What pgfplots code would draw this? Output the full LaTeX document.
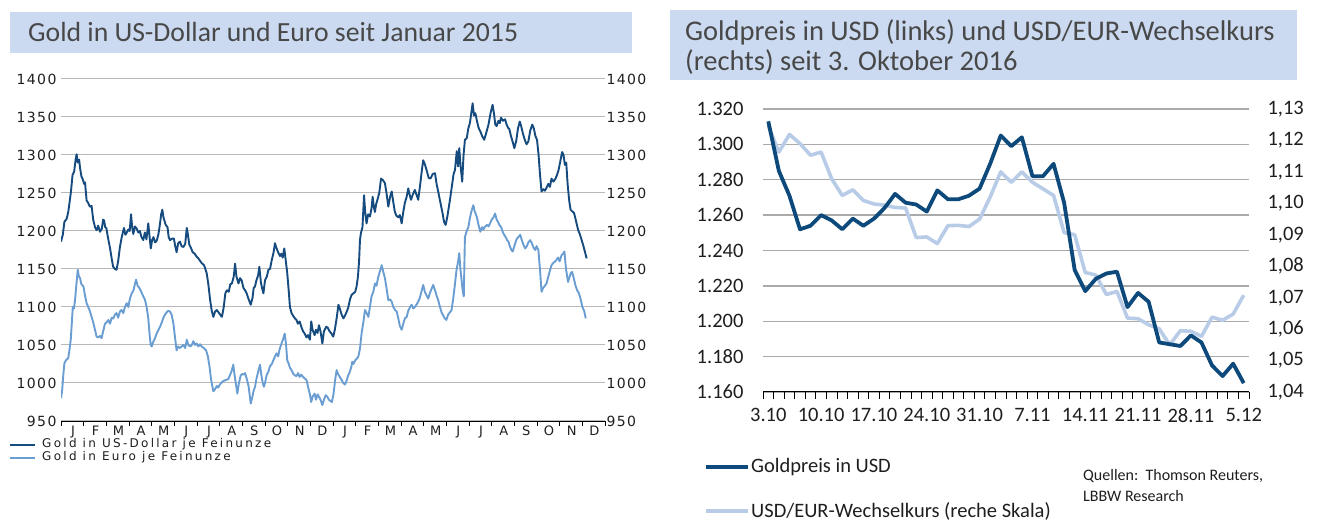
\documentclass[border=0pt]{standalone}
\usepackage{pgfplots}
\pgfplotsset{compat=1.18}
\usepackage{fontspec}
\setmainfont{Carlito}
\newfontfamily\vfont[LetterSpace=10]{DejaVu Sans}
\newfontfamily\lfont[LetterSpace=19]{DejaVu Sans}
\definecolor{titlebg}{RGB}{203,218,240}
\definecolor{titletext}{RGB}{72,72,72}
\definecolor{gridL}{RGB}{185,185,185}
\definecolor{gridR}{RGB}{170,170,170}
\definecolor{darkL}{RGB}{21,75,126}
\definecolor{lightL}{RGB}{106,158,210}
\definecolor{darkR}{RGB}{13,74,123}
\definecolor{lightR}{RGB}{184,204,232}
\definecolor{tickcol}{RGB}{30,30,30}
\begin{document}
\begin{tikzpicture}[x=1pt,y=1pt]
\path[use as bounding box] (0,0) rectangle (1322,521);
% ---------- titles ----------
\fill[titlebg] (10,468) rectangle (632,509);
\node[anchor=base west, inner sep=0pt, text=titletext, font=\fontsize{27.7}{30}\selectfont] at (28,479) {Gold in US-Dollar und Euro seit Januar 2015};
\fill[titlebg] (670,441) rectangle (1297,511);
\node[anchor=base west, inner sep=0pt, text=titletext, font=\fontsize{28.5}{30}\selectfont] at (685,480) {Goldpreis in USD (links) und USD/EUR-Wechselkurs};
\node[anchor=base west, inner sep=0pt, text=titletext, font=\fontsize{28.5}{30}\selectfont] at (685,450) {(rechts) seit 3. Oktober 2016};
% ---------- left chart ----------
\begin{axis}[
  at={(61pt,100pt)}, anchor=south west, scale only axis,
  width=544pt, height=342pt,
  xmin=0, xmax=24, ymin=950, ymax=1400,
  axis x line*=bottom, axis y line*=left,
  y axis line style={draw=none},
  x axis line style={black, line width=0.9pt},
  tick align=outside,
  major tick length=0pt, minor tick length=5pt,
  minor x tick style={black, line width=0.8pt},
  ytick={950,1000,...,1400},
  ymajorgrids, grid style={gridL, line width=1pt},
  xtick={0.5,1.5,...,23.5},
  xticklabels={J,F,M,A,M,J,J,A,S,O,N,D,J,F,M,A,M,J,J,A,S,O,N,D},
  minor xtick={0,1,...,24},
  /pgf/number format/assume math mode=true,
  /pgf/number format/set thousands separator={},
  yticklabel style={font=\vfont\fontsize{14}{14}\selectfont, text=tickcol, xshift=-1pt},
  xticklabel style={font=\vfont\fontsize{13}{13}\selectfont, text=tickcol, yshift=-3pt, xshift=0.7pt, inner ysep=2pt},
  line join=round,
]
\addplot[lightL, line width=1.9pt, no marks] table[row sep=\\] {x y\\
0.00 980\\ 0.05 990\\ 0.10 1010\\ 0.15 1026\\ 0.22 1030\\ 0.32 1033\\ 0.38 1045\\ 0.43 1057\\ 0.48 1080\\ 0.52 1100\\
0.57 1098\\ 0.62 1109\\ 0.68 1130\\ 0.74 1149\\ 0.79 1140\\ 0.84 1138\\ 0.90 1130\\ 0.99 1127\\ 1.06 1115\\ 1.13 1105\\
1.20 1100\\ 1.27 1095\\ 1.35 1087\\ 1.42 1080\\ 1.50 1070\\ 1.57 1061\\ 1.65 1060\\ 1.72 1062\\ 1.79 1059\\ 1.86 1068\\
1.94 1078\\ 2.02 1080\\ 2.09 1083\\ 2.16 1078\\ 2.24 1086\\ 2.31 1085\\ 2.38 1090\\ 2.45 1092\\ 2.52 1086\\ 2.60 1094\\
2.67 1096\\ 2.75 1092\\ 2.82 1100\\ 2.90 1105\\ 2.97 1100\\ 3.05 1112\\ 3.12 1118\\ 3.20 1122\\ 3.26 1130\\ 3.31 1136\\
3.38 1128\\ 3.46 1125\\ 3.54 1120\\ 3.63 1114\\ 3.70 1110\\ 3.78 1100\\ 3.85 1085\\ 3.92 1060\\ 3.96 1050\\ 4.00 1048\\
4.08 1055\\ 4.15 1059\\ 4.22 1065\\ 4.30 1070\\ 4.37 1074\\ 4.45 1080\\ 4.52 1086\\ 4.59 1090\\ 4.66 1093\\ 4.73 1095\\
4.81 1094\\ 4.88 1090\\ 4.96 1078\\ 5.03 1060\\ 5.10 1043\\ 5.17 1048\\ 5.25 1046\\ 5.32 1048\\ 5.40 1050\\ 5.48 1046\\
5.55 1057\\ 5.62 1050\\ 5.70 1048\\ 5.77 1050\\ 5.84 1055\\ 5.92 1050\\ 5.99 1052\\ 6.06 1048\\ 6.13 1051\\ 6.21 1048\\
6.30 1046\\ 6.40 1043\\ 6.48 1035\\ 6.55 1022\\ 6.62 1005\\ 6.68 995\\ 6.72 989\\ 6.80 992\\ 6.87 996\\ 6.94 994\\
7.01 998\\ 7.07 1000\\ 7.13 1002\\ 7.20 1003\\ 7.28 1004\\ 7.38 1005\\ 7.45 1010\\ 7.52 1015\\ 7.60 1024\\ 7.66 1010\\
7.72 998\\ 7.78 986\\ 7.85 1000\\ 7.93 1010\\ 8.00 1012\\ 8.06 1011\\ 8.12 1013\\ 8.20 1005\\ 8.28 995\\ 8.37 973\\
8.43 980\\ 8.50 990\\ 8.56 995\\ 8.62 1005\\ 8.70 1015\\ 8.78 1024\\ 8.84 1010\\ 8.90 1000\\ 8.95 995\\ 9.00 1000\\
9.07 1010\\ 9.15 1015\\ 9.22 1022\\ 9.30 1025\\ 9.37 1030\\ 9.44 1035\\ 9.51 1039\\ 9.58 1035\\ 9.65 1045\\ 9.73 1052\\
9.80 1058\\ 9.87 1065\\ 9.93 1050\\ 9.98 1030\\ 10.05 1025\\ 10.10 1020\\ 10.17 1017\\ 10.25 1012\\ 10.32 1010\\ 10.39 1009\\
10.46 1013\\ 10.53 1008\\ 10.60 1011\\ 10.68 1008\\ 10.75 1006\\ 10.83 1004\\ 10.90 995\\ 10.98 985\\ 11.04 975\\ 11.10 982\\
11.19 986\\ 11.25 978\\ 11.32 985\\ 11.38 982\\ 11.45 978\\ 11.53 971\\ 11.60 978\\ 11.68 984\\ 11.75 982\\ 11.82 978\\
11.90 976\\ 11.95 975\\ 12.02 985\\ 12.10 1005\\ 12.16 1017\\ 12.22 1012\\ 12.30 1008\\ 12.38 1004\\ 12.45 1000\\ 12.53 998\\
12.60 1003\\ 12.67 1010\\ 12.72 1013\\ 12.80 1020\\ 12.85 1028\\ 12.90 1025\\ 12.98 1030\\ 13.05 1032\\ 13.12 1035\\ 13.19 1045\\
13.26 1065\\ 13.34 1080\\ 13.41 1096\\ 13.48 1092\\ 13.56 1087\\ 13.63 1100\\ 13.70 1114\\ 13.78 1120\\ 13.85 1131\\ 13.92 1128\\
14.00 1140\\ 14.08 1148\\ 14.15 1155\\ 14.22 1146\\ 14.29 1138\\ 14.36 1125\\ 14.44 1109\\ 14.52 1110\\ 14.59 1107\\ 14.66 1100\\
14.74 1096\\ 14.81 1094\\ 14.88 1085\\ 14.95 1075\\ 15.03 1070\\ 15.10 1078\\ 15.17 1085\\ 15.25 1087\\ 15.32 1095\\ 15.40 1100\\
15.47 1103\\ 15.54 1098\\ 15.61 1100\\ 15.68 1103\\ 15.76 1107\\ 15.83 1112\\ 15.90 1120\\ 15.98 1129\\ 16.05 1120\\ 16.13 1115\\
16.20 1111\\ 16.27 1118\\ 16.35 1124\\ 16.42 1129\\ 16.50 1122\\ 16.57 1115\\ 16.64 1109\\ 16.72 1100\\ 16.80 1092\\ 16.86 1089\\
16.93 1085\\ 17.00 1083\\ 17.08 1090\\ 17.16 1093\\ 17.23 1096\\ 17.30 1110\\ 17.38 1130\\ 17.45 1149\\ 17.52 1160\\ 17.57 1171\\
17.62 1150\\ 17.67 1136\\ 17.72 1122\\ 17.77 1114\\ 17.82 1192\\ 17.90 1200\\ 17.97 1205\\ 18.04 1217\\ 18.10 1225\\ 18.19 1234\\
18.25 1226\\ 18.34 1219\\ 18.42 1208\\ 18.50 1199\\ 18.58 1205\\ 18.64 1202\\ 18.71 1206\\ 18.80 1208\\ 18.86 1206\\ 18.93 1210\\
19.00 1215\\ 19.08 1218\\ 19.15 1223\\ 19.22 1215\\ 19.28 1212\\ 19.34 1208\\ 19.42 1205\\ 19.50 1198\\ 19.55 1195\\ 19.62 1192\\
19.68 1188\\ 19.74 1186\\ 19.80 1180\\ 19.87 1175\\ 19.93 1173\\ 20.00 1180\\ 20.06 1186\\ 20.11 1190\\ 20.18 1192\\ 20.26 1195\\
20.33 1188\\ 20.40 1182\\ 20.48 1177\\ 20.55 1180\\ 20.62 1185\\ 20.70 1188\\ 20.77 1184\\ 20.85 1178\\ 20.92 1175\\ 20.98 1180\\
21.06 1175\\ 21.13 1150\\ 21.20 1120\\ 21.27 1125\\ 21.35 1128\\ 21.42 1131\\ 21.50 1140\\ 21.57 1148\\ 21.64 1155\\ 21.72 1158\\
21.80 1160\\ 21.86 1162\\ 21.93 1165\\ 22.00 1160\\ 22.08 1168\\ 22.15 1170\\ 22.21 1173\\ 22.28 1150\\ 22.37 1133\\ 22.44 1140\\
22.50 1145\\ 22.55 1146\\ 22.62 1138\\ 22.70 1128\\ 22.77 1122\\ 22.85 1118\\ 22.92 1111\\ 23.00 1100\\ 23.08 1095\\ 23.15 1085\\
};
\addplot[darkL, line width=1.9pt, no marks] table[row sep=\\] {x y\\
0.00 1186\\ 0.08 1195\\ 0.15 1212\\ 0.25 1216\\ 0.32 1225\\ 0.38 1238\\ 0.44 1252\\ 0.51 1274\\ 0.58 1278\\ 0.65 1295\\
0.69 1301\\ 0.74 1290\\ 0.80 1294\\ 0.84 1283\\ 0.90 1272\\ 0.96 1268\\ 1.02 1262\\ 1.06 1264\\ 1.13 1240\\ 1.20 1237\\
1.27 1232\\ 1.35 1233\\ 1.42 1215\\ 1.50 1205\\ 1.57 1201\\ 1.64 1207\\ 1.72 1199\\ 1.80 1203\\ 1.86 1215\\ 1.90 1214\\
1.95 1205\\ 2.00 1204\\ 2.08 1190\\ 2.16 1178\\ 2.24 1163\\ 2.30 1153\\ 2.38 1150\\ 2.45 1149\\ 2.52 1160\\ 2.60 1179\\
2.68 1192\\ 2.78 1204\\ 2.84 1195\\ 2.90 1198\\ 2.97 1202\\ 3.03 1200\\ 3.09 1222\\ 3.14 1205\\ 3.19 1196\\ 3.26 1206\\
3.34 1203\\ 3.41 1198\\ 3.48 1200\\ 3.55 1192\\ 3.63 1188\\ 3.70 1198\\ 3.77 1189\\ 3.85 1210\\ 3.90 1195\\ 3.96 1177\\
4.02 1188\\ 4.08 1192\\ 4.15 1185\\ 4.22 1187\\ 4.30 1196\\ 4.37 1210\\ 4.42 1222\\ 4.47 1228\\ 4.52 1218\\ 4.58 1212\\
4.62 1208\\ 4.70 1205\\ 4.75 1192\\ 4.81 1188\\ 4.90 1190\\ 4.98 1190\\ 5.04 1180\\ 5.10 1172\\ 5.17 1184\\ 5.25 1186\\
5.32 1180\\ 5.40 1179\\ 5.48 1183\\ 5.55 1204\\ 5.60 1195\\ 5.66 1182\\ 5.73 1178\\ 5.81 1172\\ 5.90 1170\\ 5.99 1166\\
6.06 1164\\ 6.13 1161\\ 6.20 1158\\ 6.31 1155\\ 6.37 1150\\ 6.43 1144\\ 6.50 1130\\ 6.58 1109\\ 6.65 1095\\ 6.72 1087\\
6.80 1094\\ 6.87 1096\\ 6.95 1093\\ 7.02 1090\\ 7.10 1087\\ 7.18 1100\\ 7.25 1118\\ 7.32 1122\\ 7.40 1120\\ 7.47 1130\\
7.54 1131\\ 7.62 1140\\ 7.68 1157\\ 7.74 1140\\ 7.83 1131\\ 7.90 1138\\ 7.97 1135\\ 8.05 1125\\ 8.12 1122\\ 8.19 1118\\
8.28 1110\\ 8.37 1103\\ 8.45 1112\\ 8.50 1125\\ 8.56 1127\\ 8.62 1135\\ 8.70 1142\\ 8.75 1153\\ 8.82 1132\\ 8.87 1125\\
8.93 1118\\ 9.00 1135\\ 9.08 1140\\ 9.15 1149\\ 9.22 1150\\ 9.30 1162\\ 9.38 1172\\ 9.44 1184\\ 9.50 1178\\ 9.58 1172\\
9.66 1167\\ 9.72 1170\\ 9.78 1165\\ 9.85 1177\\ 9.92 1160\\ 9.98 1145\\ 10.05 1120\\ 10.10 1100\\ 10.17 1092\\ 10.25 1088\\
10.32 1085\\ 10.39 1083\\ 10.45 1078\\ 10.53 1081\\ 10.60 1074\\ 10.68 1068\\ 10.75 1065\\ 10.83 1060\\ 10.90 1063\\ 10.98 1057\\
11.04 1081\\ 11.10 1070\\ 11.19 1063\\ 11.25 1070\\ 11.32 1066\\ 11.38 1076\\ 11.45 1068\\ 11.53 1052\\ 11.60 1068\\ 11.70 1074\\
11.76 1073\\ 11.85 1068\\ 11.93 1065\\ 12.01 1061\\ 12.08 1070\\ 12.16 1085\\ 12.24 1103\\ 12.30 1098\\ 12.38 1090\\ 12.46 1085\\
12.55 1090\\ 12.62 1095\\ 12.67 1099\\ 12.75 1110\\ 12.82 1116\\ 12.90 1118\\ 12.98 1120\\ 13.04 1127\\ 13.10 1140\\ 13.15 1160\\
13.19 1188\\ 13.23 1197\\ 13.30 1205\\ 13.37 1247\\ 13.42 1225\\ 13.48 1210\\ 13.55 1222\\ 13.63 1219\\ 13.70 1230\\ 13.75 1245\\
13.80 1232\\ 13.85 1225\\ 13.90 1235\\ 13.96 1241\\ 14.04 1250\\ 14.12 1269\\ 14.20 1267\\ 14.29 1263\\ 14.36 1250\\ 14.44 1232\\
14.52 1245\\ 14.59 1252\\ 14.66 1238\\ 14.73 1225\\ 14.80 1220\\ 14.88 1218\\ 14.95 1221\\ 15.03 1210\\ 15.10 1225\\ 15.17 1237\\
15.25 1245\\ 15.32 1256\\ 15.38 1248\\ 15.44 1241\\ 15.52 1248\\ 15.61 1254\\ 15.68 1248\\ 15.76 1241\\ 15.85 1262\\ 15.92 1280\\
15.98 1293\\ 16.05 1288\\ 16.13 1280\\ 16.22 1270\\ 16.30 1269\\ 16.40 1275\\ 16.50 1276\\ 16.57 1262\\ 16.64 1252\\ 16.72 1240\\
16.83 1224\\ 16.90 1212\\ 16.97 1208\\ 17.05 1220\\ 17.16 1241\\ 17.25 1260\\ 17.32 1275\\ 17.38 1280\\ 17.46 1305\\ 17.52 1285\\
17.57 1309\\ 17.63 1285\\ 17.70 1265\\ 17.76 1300\\ 17.82 1320\\ 17.90 1322\\ 17.97 1335\\ 18.04 1342\\ 18.10 1355\\ 18.16 1368\\
18.22 1352\\ 18.28 1355\\ 18.35 1345\\ 18.42 1336\\ 18.50 1331\\ 18.58 1325\\ 18.67 1320\\ 18.75 1328\\ 18.86 1340\\ 18.95 1355\\
19.04 1366\\ 19.10 1355\\ 19.16 1340\\ 19.22 1338\\ 19.30 1345\\ 19.36 1342\\ 19.41 1349\\ 19.50 1345\\ 19.59 1347\\ 19.66 1340\\
19.72 1336\\ 19.78 1334\\ 19.85 1325\\ 19.92 1318\\ 20.00 1309\\ 20.08 1318\\ 20.16 1335\\ 20.24 1344\\ 20.30 1338\\ 20.39 1327\\
20.46 1320\\ 20.54 1314\\ 20.62 1318\\ 20.70 1332\\ 20.79 1340\\ 20.86 1335\\ 20.93 1325\\ 21.00 1320\\ 21.07 1300\\ 21.13 1275\\
21.20 1252\\ 21.28 1255\\ 21.35 1253\\ 21.42 1257\\ 21.50 1262\\ 21.57 1258\\ 21.64 1269\\ 21.72 1265\\ 21.80 1268\\ 21.86 1272\\
21.95 1280\\ 22.03 1292\\ 22.11 1304\\ 22.17 1300\\ 22.23 1287\\ 22.29 1290\\ 22.35 1262\\ 22.42 1240\\ 22.48 1228\\ 22.55 1226\\
22.63 1224\\ 22.70 1216\\ 22.76 1208\\ 22.82 1201\\ 22.90 1195\\ 22.97 1188\\ 23.05 1180\\ 23.12 1172\\ 23.19 1164\\
};
\end{axis}
\begin{axis}[
  at={(61pt,100pt)}, anchor=south west, scale only axis,
  width=544pt, height=342pt,
  xmin=0, xmax=24, ymin=950, ymax=1400,
  hide x axis, axis y line*=right,
  y axis line style={draw=none},
  major tick length=0pt,
  ytick={950,1000,...,1400},
  /pgf/number format/assume math mode=true,
  /pgf/number format/set thousands separator={},
  yticklabel style={font=\vfont\fontsize{14}{14}\selectfont, text=tickcol, xshift=-2pt},
]
\end{axis}
% left legend
\draw[darkL, line width=2.6pt] (10,76) -- (35,76);
\draw[lightL, line width=2.6pt] (10,63) -- (35,63);
\node[anchor=west, inner sep=0pt, text=tickcol, font=\lfont\fontsize{12}{12}\selectfont] at (42,76.5) {Gold in US-Dollar je Feinunze};
\node[anchor=west, inner sep=0pt, text=tickcol, font=\lfont\fontsize{12}{12}\selectfont] at (42,63.5) {Gold in Euro je Feinunze};
% ---------- right chart ----------
\begin{axis}[
  at={(763pt,129pt)}, anchor=south west, scale only axis,
  width=486pt, height=283pt,
  xmin=-0.5, xmax=45.5, ymin=1160, ymax=1320,
  axis x line*=bottom, axis y line*=left,
  y axis line style={draw=none},
  x axis line style={black, line width=1pt},
  tick align=outside,
  major tick length=0pt, minor tick length=7pt,
  minor x tick style={black, line width=0.8pt},
  ytick={1160,1180,...,1320},
  ymajorgrids, grid style={gridR, line width=1.4pt},
  xtick={0,5,...,45},
  xticklabels={3.10,10.10,17.10,24.10,31.10,7.11,14.11,21.11,28.11,5.12},
  minor xtick={-0.5,0.5,...,45.5},
  /pgf/number format/assume math mode=true,
  /pgf/number format/1000 sep={.},
  yticklabel style={font=\fontsize{20.5}{20.5}\selectfont, text=tickcol, xshift=-16pt},
  xticklabel style={font=\fontsize{20.5}{20.5}\selectfont, text=tickcol, yshift=-13pt},
]
\end{axis}
\begin{axis}[
  at={(763pt,129pt)}, anchor=south west, scale only axis,
  width=486pt, height=283pt,
  xmin=-0.5, xmax=45.5, ymin=1.04, ymax=1.13,
  hide x axis, axis y line*=right,
  y axis line style={draw=none},
  major tick length=0pt,
  line join=round,
  ytick={1.04,1.05,1.06,1.07,1.08,1.09,1.10,1.11,1.12,1.13},
  /pgf/number format/assume math mode=true,
  /pgf/number format/use comma,
  /pgf/number format/fixed,
  /pgf/number format/fixed zerofill,
  /pgf/number format/precision=2,
  yticklabel style={font=\fontsize{20.5}{20.5}\selectfont, text=tickcol, xshift=15pt},
]
\addplot[lightR, line width=3.6pt, no marks] table[row sep=\\] {x y\\
0 1.1246\\ 1 1.1163\\ 2 1.1219\\ 3 1.1190\\ 4 1.1153\\ 5 1.1163\\ 6 1.1078\\ 7 1.1025\\ 8 1.1043\\ 9 1.1009\\
10 1.0998\\ 11 1.0994\\ 12 1.0987\\ 13 1.0985\\ 14 1.0891\\ 15 1.0893\\ 16 1.0872\\ 17 1.0929\\ 18 1.0930\\ 19 1.0926\\
20 1.0950\\ 21 1.1020\\ 22 1.1100\\ 23 1.1067\\ 24 1.1100\\ 25 1.1067\\ 26 1.1046\\ 27 1.1025\\ 28 1.0907\\ 29 1.0900\\
30 1.0780\\ 31 1.0772\\ 32 1.0710\\ 33 1.0720\\ 34 1.0635\\ 35 1.0633\\ 36 1.0614\\ 37 1.0601\\ 38 1.0550\\ 39 1.0595\\
40 1.0593\\ 41 1.0577\\ 42 1.0638\\ 43 1.0628\\ 44 1.0648\\ 45 1.0708\\
};
\end{axis}
\begin{axis}[
  at={(763pt,129pt)}, anchor=south west, scale only axis,
  width=486pt, height=283pt,
  xmin=-0.5, xmax=45.5, ymin=1160, ymax=1320,
  hide axis, line join=round,
]
\addplot[darkR, line width=3.8pt, no marks] table[row sep=\\] {x y\\
0 1313\\ 1 1285\\ 2 1271\\ 3 1252\\ 4 1254\\ 5 1260\\ 6 1257\\ 7 1252\\ 8 1258\\ 9 1254\\
10 1258\\ 11 1264\\ 12 1272\\ 13 1267\\ 14 1266\\ 15 1262\\ 16 1274\\ 17 1269\\ 18 1269\\ 19 1271\\
20 1275\\ 21 1289\\ 22 1305\\ 23 1299\\ 24 1304\\ 25 1282\\ 26 1282\\ 27 1289\\ 28 1267\\ 29 1229\\
30 1217\\ 31 1224\\ 32 1227\\ 33 1228\\ 34 1208\\ 35 1216\\ 36 1211\\ 37 1188\\ 38 1187\\ 39 1186\\
40 1192\\ 41 1188\\ 42 1175\\ 43 1169\\ 44 1176\\ 45 1165\\
};
\end{axis}
% right legend and source
\draw[darkR, line width=4pt] (706,54) -- (748,54);
\draw[lightR, line width=4pt] (706,10) -- (748,10);
\node[anchor=west, inner sep=0pt, text=tickcol, font=\fontsize{20.5}{22}\selectfont] at (751,54) {Goldpreis in USD};
\node[anchor=west, inner sep=0pt, text=tickcol, font=\fontsize{20.5}{22}\selectfont] at (751,10) {USD/EUR-Wechselkurs (reche Skala)};
\node[anchor=west, inner sep=0pt, text=tickcol, font=\fontsize{16}{18}\selectfont] at (1083,45) {Quellen:\ \ Thomson Reuters,};
\node[anchor=west, inner sep=0pt, text=tickcol, font=\fontsize{16}{18}\selectfont] at (1083,25) {LBBW Research};
\end{tikzpicture}
\end{document}
